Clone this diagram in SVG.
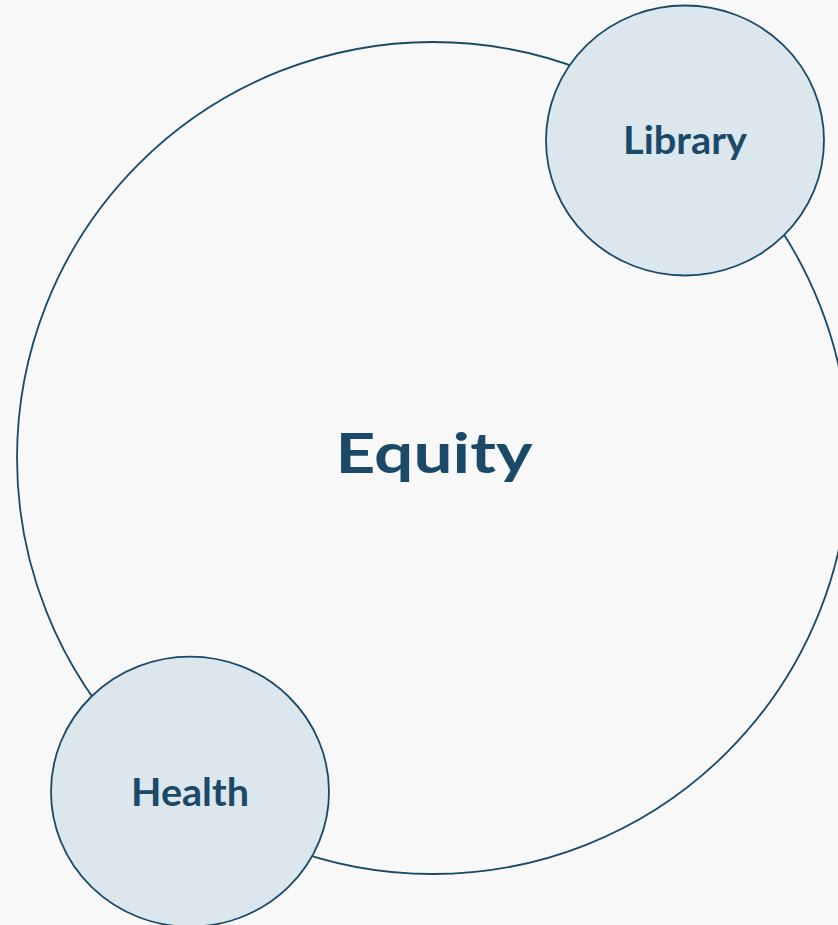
<svg xmlns="http://www.w3.org/2000/svg" width="838" height="925" viewBox="0 0 838 925">
  <style>
    .ring { fill: none; stroke: #1b4a69; stroke-width: 1.8; }
    .node { fill: #dce6ed; stroke: #1b4a69; stroke-width: 1.8; }
    .label { font-family: Lato, "Noto Sans", "Liberation Sans", sans-serif; font-weight: 700; fill: #1b4a69; text-anchor: middle; }
  </style>
  <rect width="838" height="925" fill="#f8f8f8"/>
  <g id="equity">
    <circle class="ring" cx="433" cy="458" r="416"/>
    <text class="label" x="434" y="473" font-size="56" textLength="197" lengthAdjust="spacingAndGlyphs">Equity</text>
  </g>
  <g id="connectors"></g>
  <g id="library">
    <ellipse class="node" cx="685" cy="140.5" rx="139" ry="135"/>
    <text class="label" x="685" y="154" font-size="39" textLength="124" lengthAdjust="spacingAndGlyphs">Library</text>
  </g>
  <g id="health">
    <ellipse class="node" cx="190" cy="791.7" rx="139" ry="135"/>
    <text class="label" x="190" y="806" font-size="39" textLength="118" lengthAdjust="spacingAndGlyphs">Health</text>
  </g>
</svg>
